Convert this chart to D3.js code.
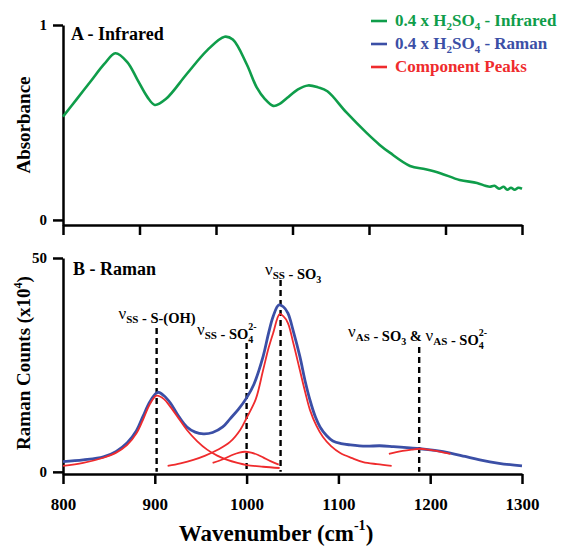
<!DOCTYPE html>
<html>
<head>
<meta charset="utf-8">
<script src="https://cdn.jsdelivr.net/npm/d3@7"></script>
<style>
  body { margin: 0; background: #fff; }
  svg text { font-family: "Liberation Serif", "Times New Roman", serif; font-weight: bold; }
</style>
</head>
<body>
<div id="chart"></div>
<script>
// Panel A - infrared absorbance
const irWavenumber = [800, 815, 830, 845, 857, 870, 881, 892, 900, 912, 935, 957, 976, 985, 1000, 1011, 1020, 1029, 1036, 1044, 1056, 1067, 1078, 1088, 1109, 1131, 1145, 1156, 1178, 1195, 1211, 1232, 1251, 1260, 1265, 1270, 1275, 1280, 1284, 1288, 1292, 1296, 1300];
const irAbsorbance = [0.53, 0.62, 0.71, 0.80, 0.855, 0.81, 0.72, 0.63, 0.59, 0.62, 0.75, 0.87, 0.94, 0.925, 0.80, 0.68, 0.62, 0.585, 0.595, 0.625, 0.67, 0.69, 0.68, 0.66, 0.55, 0.445, 0.385, 0.345, 0.277, 0.26, 0.24, 0.205, 0.19, 0.175, 0.17, 0.175, 0.16, 0.17, 0.155, 0.165, 0.155, 0.165, 0.16];

// Panel B - Raman spectrum
const ramanWavenumber = [800, 822, 844, 858, 870, 880, 887, 895, 903, 910, 917, 926, 935, 944, 953, 963, 974, 982, 991, 1000, 1008, 1018, 1024, 1029, 1035, 1040, 1045, 1051, 1058, 1064, 1069, 1075, 1080, 1087, 1094, 1103, 1113, 1130, 1145, 1160, 1178, 1189, 1205, 1222, 1238, 1254, 1275, 1300];
const ramanCounts = [2.4, 2.8, 3.5, 4.8, 6.8, 9.6, 12.9, 16.5, 18.6, 17.8, 16.1, 13.0, 10.5, 9.3, 8.9, 9.2, 10.5, 12.4, 14.6, 17.3, 20.5, 27.0, 32.5, 36.4, 39.0, 38.6, 37.1, 32.8, 27.0, 21.0, 16.8, 12.8, 10.5, 8.5, 7.2, 6.6, 6.3, 6.0, 6.1, 5.9, 5.6, 5.4, 5.0, 4.4, 3.6, 2.8, 2.0, 1.4];

// Component peaks
const peakSOHWavenumber = [800, 822, 844, 858, 870, 880, 887, 895, 902, 910, 917, 926, 935, 946, 957, 968, 979, 990, 1000, 1018, 1036];
const peakSOHCounts = [1.4, 2.1, 3.3, 4.5, 6.3, 9.0, 12.1, 16.0, 17.8, 17.0, 15.2, 12.5, 9.8, 7.2, 5.2, 3.8, 2.8, 2.1, 1.6, 1.2, 0.9];
const peakSO3Wavenumber = [914, 928, 942, 955, 968, 982, 993, 1000, 1010, 1018, 1024, 1029, 1036, 1040, 1045, 1051, 1058, 1064, 1069, 1076, 1083, 1092, 1102, 1115, 1127, 1142, 1158];
const peakSO3Counts = [1.4, 2.0, 2.8, 3.8, 5.1, 7.0, 9.8, 12.6, 17.0, 23.8, 29.0, 32.5, 36.9, 36.4, 34.8, 30.0, 23.8, 18.5, 14.5, 10.8, 8.2, 6.0, 4.4, 3.2, 2.3, 1.8, 1.4];
const peakSO4Wavenumber = [963, 975, 985, 992, 998, 1005, 1012, 1018, 1026, 1035];
const peakSO4Counts = [2.1, 3.0, 4.0, 4.5, 4.7, 4.5, 4.0, 3.4, 2.5, 1.7];
const peakASWavenumber = [1155, 1163, 1170, 1180, 1189, 1198, 1207, 1215, 1222];
const peakASCounts = [4.2, 4.6, 4.9, 5.2, 5.4, 5.2, 4.9, 4.5, 4.2];

// Band assignments (dashed markers)
const bandPositions = [902, 1000, 1037, 1188];

const xTicksA = [800, 883.33, 966.67, 1050, 1133.33, 1216.67, 1300];
const xTicksB = [800, 900, 1000, 1100, 1200, 1300];
const yTicksA = [0, 1];
const yTicksB = [0, 50];

const green = "#0f9d4a";
const blue = "#3b4fa6";
const red = "#ef2b2d";

const svg = d3.select("#chart")
    .append("svg")
    .attr("width", 561)
    .attr("height", 547);

const x = d3.scaleLinear().domain([800, 1300]).range([63, 522]);
const yA = d3.scaleLinear().domain([-0.026, 1]).range([225, 25]);
const yB = d3.scaleLinear().domain([-0.5, 50]).range([474, 258]);

function styleAxis(g) {
    g.attr("font-family", null);
    g.select(".domain").attr("stroke", "#000").attr("stroke-width", 2.5);
    g.selectAll(".tick line").attr("stroke", "#000").attr("stroke-width", 2.5);
    g.selectAll(".tick text").attr("fill", "#000");
}

// Panel A axes
svg.append("g")
    .attr("transform", `translate(0,${yA.range()[0]})`)
    .call(d3.axisBottom(x).tickValues(xTicksA).tickSize(10).tickSizeOuter(0).tickFormat(""))
    .call(styleAxis);

svg.append("g")
    .attr("transform", `translate(${x.range()[0]},0)`)
    .call(d3.axisLeft(yA).tickValues(yTicksA).tickSize(10).tickSizeOuter(0).tickPadding(6).tickFormat(d3.format("d")))
    .call(styleAxis)
    .selectAll(".tick text")
    .attr("font-size", 15);

// Panel B axes
svg.append("g")
    .attr("transform", `translate(0,${yB.range()[0]})`)
    .call(d3.axisBottom(x).tickValues(xTicksB).tickSize(10).tickSizeOuter(0).tickPadding(14).tickFormat(d3.format("d")))
    .call(styleAxis)
    .selectAll(".tick text")
    .attr("font-size", 17);

svg.append("g")
    .attr("transform", `translate(${x.range()[0]},0)`)
    .call(d3.axisLeft(yB).tickValues(yTicksB).tickSize(10).tickSizeOuter(0).tickPadding(6).tickFormat(d3.format("d")))
    .call(styleAxis)
    .selectAll(".tick text")
    .attr("font-size", 15);

// Lines
const lineA = d3.line()
    .x(d => x(d[0]))
    .y(d => yA(d[1]))
    .curve(d3.curveCatmullRom.alpha(0.5));

const lineB = d3.line()
    .x(d => x(d[0]))
    .y(d => yB(d[1]))
    .curve(d3.curveCatmullRom.alpha(0.5));

svg.append("path")
    .datum(d3.zip(irWavenumber, irAbsorbance))
    .attr("fill", "none")
    .attr("stroke", green)
    .attr("stroke-width", 2.6)
    .attr("d", lineA);

// Dashed band markers
const bandTops = [328, 343, 280, 347];
svg.selectAll(".band")
    .data(bandPositions)
    .enter()
    .append("line")
    .attr("class", "band")
    .attr("x1", d => x(d))
    .attr("x2", d => x(d))
    .attr("y1", (d, i) => bandTops[i])
    .attr("y2", yB(0))
    .attr("stroke", "#000")
    .attr("stroke-width", 2.4)
    .attr("stroke-dasharray", "6,4");

svg.append("path")
    .datum(d3.zip(ramanWavenumber, ramanCounts))
    .attr("fill", "none")
    .attr("stroke", blue)
    .attr("stroke-width", 2.8)
    .attr("d", lineB);

const peaks = [
    [peakSOHWavenumber, peakSOHCounts],
    [peakSO3Wavenumber, peakSO3Counts],
    [peakSO4Wavenumber, peakSO4Counts],
    [peakASWavenumber, peakASCounts]
];
svg.selectAll(".peak")
    .data(peaks)
    .enter()
    .append("path")
    .attr("class", "peak")
    .attr("fill", "none")
    .attr("stroke", red)
    .attr("stroke-width", 1.8)
    .attr("d", d => lineB(d3.zip(d[0], d[1])));

// Panel titles
svg.append("text").attr("x", 71).attr("y", 40).attr("font-size", 18).text("A - Infrared");
svg.append("text").attr("x", 73).attr("y", 275).attr("font-size", 18).text("B - Raman");

// Axis titles
svg.append("text")
    .attr("transform", "translate(30,125) rotate(-90)")
    .attr("text-anchor", "middle")
    .attr("font-size", 19)
    .text("Absorbance");

const yTitleB = svg.append("text")
    .attr("transform", "translate(30,363) rotate(-90)")
    .attr("text-anchor", "middle")
    .attr("font-size", 19);
yTitleB.append("tspan").text("Raman Counts (x10");
yTitleB.append("tspan").attr("dy", -8).attr("font-size", 12).text("4");
yTitleB.append("tspan").attr("dy", 8).text(")");

const xTitle = svg.append("text")
    .attr("x", 276)
    .attr("y", 541)
    .attr("text-anchor", "middle")
    .attr("font-size", 23);
xTitle.append("tspan").text("Wavenumber (cm");
xTitle.append("tspan").attr("dy", -11).attr("font-size", 14).text("-1");
xTitle.append("tspan").attr("dy", 11).text(")");

// Band labels
function nu(t, sub) {
    t.append("tspan").attr("font-weight", "normal").attr("font-size", 17).text("\u03bd");
    t.append("tspan").attr("dy", 4).attr("font-size", 11).text(sub);
    t.append("tspan").attr("dy", -4).text("");
}

const lab1 = svg.append("text").attr("x", 157).attr("y", 319).attr("text-anchor", "middle").attr("font-size", 14.5);
nu(lab1, "SS");
lab1.append("tspan").text(" - S-(OH)");

const lab2 = svg.append("text").attr("x", 197).attr("y", 335).attr("font-size", 14.5);
nu(lab2, "SS");
lab2.append("tspan").text(" - SO");
lab2.append("tspan").attr("dy", 4).attr("font-size", 10).text("4");
lab2.append("tspan").attr("dy", -13).attr("dx", -5).attr("font-size", 10).text("2-");

const lab3 = svg.append("text").attr("x", 265).attr("y", 275).attr("font-size", 14.5);
nu(lab3, "SS");
lab3.append("tspan").text(" - SO");
lab3.append("tspan").attr("dy", 4).attr("font-size", 10).text("3");

const lab4 = svg.append("text").attr("x", 348).attr("y", 337).attr("font-size", 14.5);
nu(lab4, "AS");
lab4.append("tspan").text(" - SO");
lab4.append("tspan").attr("dy", 4).attr("font-size", 10).text("3");
lab4.append("tspan").attr("dy", -4).text(" & ");
nu(lab4, "AS");
lab4.append("tspan").text(" - SO");
lab4.append("tspan").attr("dy", 4).attr("font-size", 10).text("4");
lab4.append("tspan").attr("dy", -13).attr("dx", -5).attr("font-size", 10).text("2-");

// Legend
const legendItems = [
    { color: green, parts: ["0.4 x H", "2", "SO", "4", " - Infrared"] },
    { color: blue, parts: ["0.4 x H", "2", "SO", "4", " - Raman"] },
    { color: red, parts: ["Component Peaks"] }
];
const legend = svg.append("g");
legendItems.forEach((item, i) => {
    const ly = 21 + i * 23;
    legend.append("line")
        .attr("x1", 371).attr("x2", 387)
        .attr("y1", ly).attr("y2", ly)
        .attr("stroke", item.color)
        .attr("stroke-width", 2.6);
    const t = legend.append("text")
        .attr("x", 395).attr("y", ly + 5)
        .attr("fill", item.color)
        .attr("font-size", 17);
    item.parts.forEach((p, j) => {
        const sp = t.append("tspan").text(p);
        if (j % 2 === 1) sp.attr("dy", 4).attr("font-size", 11);
        else if (j > 0) sp.attr("dy", -4);
    });
});
</script>
</body>
</html>
